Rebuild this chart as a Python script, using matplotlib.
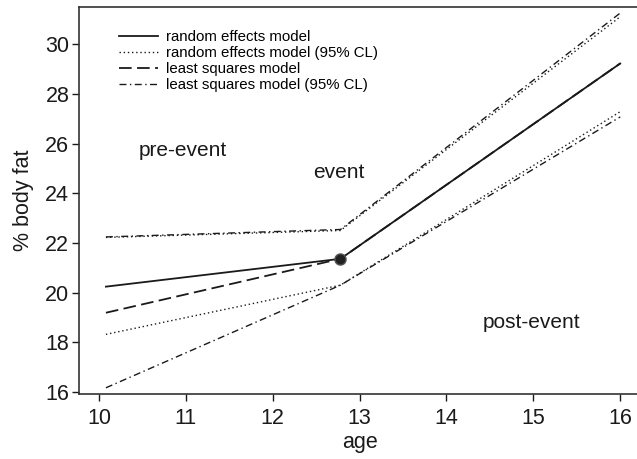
import matplotlib
matplotlib.use("Agg")
import matplotlib.pyplot as plt

plt.rcParams['font.family'] = ['Liberation Sans', 'DejaVu Sans']

# knots: start of data, event age, end of data
age = [10.08, 12.78, 16.0]

# random effects model and 95% limits
re_fit = [20.24, 21.36, 29.22]
re_lo = [18.32, 20.30, 27.28]
re_hi = [22.22, 22.50, 31.10]

# least squares model and 95% limits
ls_fit = [19.19, 21.36, 29.22]
ls_lo = [16.17, 20.30, 27.07]
ls_hi = [22.24, 22.54, 31.25]

event_age = 12.78
event_fat = 21.36

fig = plt.figure(figsize=(6.37, 4.59), dpi=100)
ax = fig.add_axes([0.124, 0.1416, 0.881, 0.843])

ink = '#1a1a1a'
ax.plot(age, re_fit, color=ink, lw=1.3, ls='-', label='random effects model')
ax.plot(age, re_lo, color=ink, lw=1.0, ls=(0, (1, 2)), label='random effects model (95% CL)')
ax.plot(age, re_hi, color=ink, lw=1.0, ls=(0, (1, 2)))
ax.plot(age, ls_fit, color=ink, lw=1.3, ls=(0, (7, 3)), label='least squares model')
ax.plot(age, ls_lo, color=ink, lw=1.0, ls=(0, (5, 2.5, 1, 2.5)), label='least squares model (95% CL)')
ax.plot(age, ls_hi, color=ink, lw=1.0, ls=(0, (5, 2.5, 1, 2.5)))

ax.plot([event_age], [event_fat], marker='o', ms=8, color='#222222',
        markeredgecolor='#555555', zorder=5)

ax.text(10.97, 25.7, 'pre-event', fontsize=15, ha='center', va='center', color=ink)
ax.text(12.76, 24.85, 'event', fontsize=15, ha='center', va='center', color=ink)
ax.text(14.98, 18.8, 'post-event', fontsize=15, ha='center', va='center', color=ink)

ax.set_xlim(9.77, 16.23)
ax.set_ylim(15.92, 31.49)
ax.set_xticks([10, 11, 12, 13, 14, 15, 16])
ax.set_yticks([16, 18, 20, 22, 24, 26, 28, 30])
ax.tick_params(direction='out', length=5, width=1.0, labelsize=15.5, colors=ink)
ax.tick_params(axis='x', pad=5)
ax.tick_params(axis='y', pad=2)
ax.set_xlabel('age', fontsize=15.5, labelpad=2, color=ink)
ax.set_ylabel('% body fat', fontsize=15.5, labelpad=8, color=ink)

ax.spines['right'].set_visible(False)
for s in ['left', 'bottom', 'top']:
    ax.spines[s].set_color('#333333')
    ax.spines[s].set_linewidth(1.2)

ax.legend(loc='upper left', bbox_to_anchor=(0.06, 0.955), frameon=False,
          fontsize=10.8, handlelength=2.6, handletextpad=0.55, labelspacing=0.12,
          borderaxespad=0)

fig.savefig('out.png', dpi=100)
